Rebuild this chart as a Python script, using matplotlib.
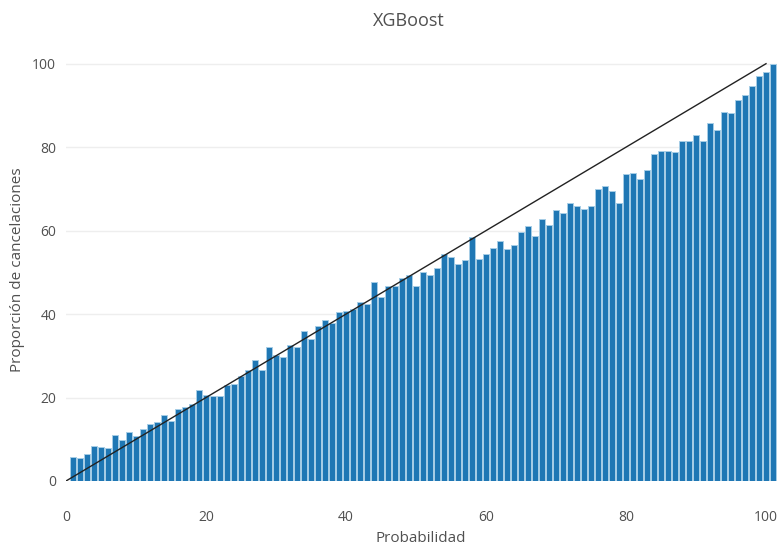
import matplotlib
matplotlib.use("Agg")
import matplotlib.pyplot as plt

plt.rcParams['font.family'] = ['Open Sans', 'DejaVu Sans']

title = "XGBoost"
x_label = "Probabilidad"
y_label = "Proporción de cancelaciones"

prob = list(range(1, 102))
proportion = [
    5.8, 5.6, 6.5, 8.5, 8.2, 7.8, 11.0, 9.8, 11.8, 10.9,
    12.5, 13.6, 14.1, 15.7, 14.4, 17.2, 17.8, 18.5, 21.9, 20.7,
    20.4, 20.4, 22.9, 23.3, 25.1, 26.5, 28.9, 26.6, 32.2, 30.2,
    29.8, 32.6, 32.2, 36.0, 34.1, 37.2, 38.6, 37.8, 40.4, 40.7,
    41.2, 43.0, 42.4, 47.6, 44.2, 46.8, 46.8, 48.7, 49.4, 46.7,
    50.1, 49.3, 51.0, 54.4, 53.6, 52.0, 53.0, 58.4, 53.2, 54.4,
    55.9, 57.5, 55.6, 56.5, 59.7, 61.2, 58.8, 62.8, 61.3, 65.0,
    64.2, 66.6, 65.9, 65.3, 66.0, 70.0, 70.8, 69.5, 66.6, 73.5,
    73.8, 72.4, 74.6, 78.4, 79.0, 79.0, 78.8, 81.4, 81.4, 82.8,
    81.5, 85.8, 84.0, 88.5, 88.2, 91.4, 92.4, 94.6, 97.0, 98.0,
    100.0,
]
diag_x = [0, 100]
diag_y = [0, 100]
ticks = [0, 20, 40, 60, 80, 100]

W, H = 778, 546
fig = plt.figure(figsize=(W / 100, H / 100), dpi=100)
left, right, top, bottom = 66, 776.5, 42, 481
ax = fig.add_axes([left / W, 1 - bottom / H, (right - left) / W, (bottom - top) / H])

ax.bar(prob, proportion, width=0.86, color='#1f77b4', edgecolor='#a6cde6',
       linewidth=0.7, zorder=2)
ax.plot(diag_x, diag_y, color='#222222', linewidth=1.0, zorder=3)

ax.set_xlim(0, 101.5)
ax.set_ylim(0, 105.2)
ax.set_xticks(ticks)
ax.set_yticks(ticks)
ax.yaxis.grid(True, color='#eeeeee', linewidth=1, zorder=0)
ax.xaxis.grid(False)
for s in ax.spines.values():
    s.set_visible(False)
ax.tick_params(axis='both', length=0, labelsize=10, labelcolor='#505050')
ax.tick_params(axis='x', pad=21)
ax.tick_params(axis='y', pad=7)

fig.text(421 / W, 1 - 538 / H, x_label, ha='center', va='center', fontsize=11,
         color='#505050')
fig.text(18 / W, 1 - 270 / H, y_label, ha='center', va='center', fontsize=11,
         color='#505050', rotation=90)
fig.text(409 / W, 1 - 21 / H, title, ha='center', va='center', fontsize=13,
         color='#505050')

fig.savefig("out.png", dpi=100)
